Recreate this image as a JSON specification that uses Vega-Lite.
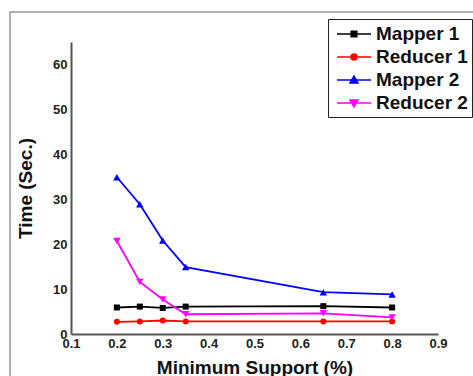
{
  "$schema": "https://vega.github.io/schema/vega-lite/v6.json",
  "autosize": "none",
  "width": 367,
  "height": 292,
  "padding": {"left": 71, "top": 42, "right": 35, "bottom": 42},
  "background": "white",
  "config": {
    "view": {"stroke": null},
    "font": "Liberation Sans",
    "axis": {
      "domainColor": "#555555",
      "domainWidth": 2,
      "ticks": false,
      "grid": false,
      "labelFont": "Liberation Sans",
      "labelFontWeight": "bold",
      "labelFontSize": 13,
      "labelColor": "#222222",
      "labelFlush": false,
      "labelOverlap": false,
      "titleFont": "Liberation Sans",
      "titleFontWeight": "bold",
      "titleFontSize": 19,
      "titleColor": "#111111"
    }
  },
  "datasets": {
    "frame": [{"x1": -0.033, "x2": 1.3, "y1": 71.7, "y2": -20}]
  },
  "data": {
    "values": [
      {"s": 0.2, "t": 5.9, "series": "Mapper 1"},
      {"s": 0.25, "t": 6.1, "series": "Mapper 1"},
      {"s": 0.3, "t": 5.8, "series": "Mapper 1"},
      {"s": 0.35, "t": 6.1, "series": "Mapper 1"},
      {"s": 0.65, "t": 6.2, "series": "Mapper 1"},
      {"s": 0.8, "t": 5.9, "series": "Mapper 1"},
      {"s": 0.2, "t": 2.7, "series": "Reducer 1"},
      {"s": 0.25, "t": 2.8, "series": "Reducer 1"},
      {"s": 0.3, "t": 3.0, "series": "Reducer 1"},
      {"s": 0.35, "t": 2.8, "series": "Reducer 1"},
      {"s": 0.65, "t": 2.8, "series": "Reducer 1"},
      {"s": 0.8, "t": 2.8, "series": "Reducer 1"},
      {"s": 0.2, "t": 34.9, "series": "Mapper 2"},
      {"s": 0.25, "t": 28.9, "series": "Mapper 2"},
      {"s": 0.3, "t": 20.8, "series": "Mapper 2"},
      {"s": 0.35, "t": 14.9, "series": "Mapper 2"},
      {"s": 0.65, "t": 9.3, "series": "Mapper 2"},
      {"s": 0.8, "t": 8.8, "series": "Mapper 2"},
      {"s": 0.2, "t": 20.7, "series": "Reducer 2"},
      {"s": 0.25, "t": 11.6, "series": "Reducer 2"},
      {"s": 0.3, "t": 7.7, "series": "Reducer 2"},
      {"s": 0.35, "t": 4.4, "series": "Reducer 2"},
      {"s": 0.65, "t": 4.6, "series": "Reducer 2"},
      {"s": 0.8, "t": 3.7, "series": "Reducer 2"}
    ]
  },
  "layer": [
    {
      "data": {"name": "frame"},
      "mark": {"type": "rect", "fill": null, "stroke": "#999999", "strokeWidth": 1.5, "clip": false},
      "encoding": {
        "x": {"field": "x1", "type": "quantitative"},
        "x2": {"field": "x2"},
        "y": {"field": "y1", "type": "quantitative"},
        "y2": {"field": "y2"}
      }
    },
    {
      "mark": {"type": "line", "strokeWidth": 1.8},
      "encoding": {
        "x": {
          "field": "s", "type": "quantitative",
          "scale": {"domain": [0.1, 0.9], "nice": false, "zero": false},
          "axis": {"title": "Minimum Support (%)", "values": [0.1, 0.2, 0.3, 0.4, 0.5, 0.6, 0.7, 0.8, 0.9], "format": ".1f", "labelPadding": 3, "titlePadding": 8, "labelFontSize": 13, "labelFontWeight": "bold"}
        },
        "y": {
          "field": "t", "type": "quantitative",
          "scale": {"domain": [0, 65], "nice": false},
          "axis": {"title": "Time (Sec.)", "values": [0, 10, 20, 30, 40, 50, 60], "labelPadding": 4, "titlePadding": 17, "labelFontSize": 13, "labelFontWeight": "bold"}
        },
        "color": {
          "field": "series", "type": "nominal",
          "scale": {"domain": ["Mapper 1", "Reducer 1", "Mapper 2", "Reducer 2"], "range": ["#000000", "#ff0000", "#0000ff", "#ff00ff"]},
          "legend": {
            "title": null,
            "orient": "none",
            "legendX": 257,
            "legendY": -23,
            "padding": 4,
            "strokeColor": "#222222",
            "fillColor": "white",
            "symbolType": "M-0.6,0H2.8",
            "symbolSize": 400,
            "symbolStrokeWidth": 1.5,
            "labelFont": "Liberation Sans",
            "labelFontWeight": "bold",
            "labelFontSize": 19,
            "labelColor": "#111111",
            "labelOffset": 22,
            "rowPadding": 2,
            "labelLimit": 300,
            "encode": {
              "symbols": {
                "update": {
                  "shape": {"signal": "datum.value === 'Mapper 1' ? 'M-0.6,0H2.8M0.82,-0.28H1.38V0.28H0.82Z' : datum.value === 'Reducer 1' ? 'M-0.6,0H2.8M0.8,0A0.3,0.3 0 1,0 1.4,0A0.3,0.3 0 1,0 0.8,0Z' : datum.value === 'Mapper 2' ? 'M-0.6,0H2.8M1.1,-0.4L1.5,0.3H0.7Z' : 'M-0.6,0H2.8M1.1,0.4L1.5,-0.3H0.7Z'"},
                  "fill": {"signal": "datum.value === 'Mapper 1' ? '#000000' : datum.value === 'Reducer 1' ? '#ff0000' : datum.value === 'Mapper 2' ? '#0000ff' : '#ff00ff'"},
                  "stroke": {"signal": "datum.value === 'Mapper 1' ? '#000000' : datum.value === 'Reducer 1' ? '#ff0000' : datum.value === 'Mapper 2' ? '#0000ff' : '#ff00ff'"},
                  "strokeWidth": {"value": 1.5},
                  "opacity": {"value": 1}
                }
              }
            }
          }
        }
      }
    },
    {
      "transform": [{"filter": "datum.series === 'Mapper 1'"}],
      "mark": {"type": "point", "shape": "square", "filled": true, "opacity": 1, "color": "#000000", "size": 36},
      "encoding": {"x": {"field": "s", "type": "quantitative"}, "y": {"field": "t", "type": "quantitative"}}
    },
    {
      "transform": [{"filter": "datum.series === 'Reducer 1'"}],
      "mark": {"type": "point", "shape": "circle", "filled": true, "opacity": 1, "color": "#ff0000", "size": 36},
      "encoding": {"x": {"field": "s", "type": "quantitative"}, "y": {"field": "t", "type": "quantitative"}}
    },
    {
      "transform": [{"filter": "datum.series === 'Mapper 2'"}],
      "mark": {"type": "point", "shape": "triangle-up", "filled": true, "opacity": 1, "color": "#0000ff", "size": 55},
      "encoding": {"x": {"field": "s", "type": "quantitative"}, "y": {"field": "t", "type": "quantitative"}}
    },
    {
      "transform": [{"filter": "datum.series === 'Reducer 2'"}],
      "mark": {"type": "point", "shape": "triangle-down", "filled": true, "opacity": 1, "color": "#ff00ff", "size": 55},
      "encoding": {"x": {"field": "s", "type": "quantitative"}, "y": {"field": "t", "type": "quantitative"}}
    }
  ]
}
